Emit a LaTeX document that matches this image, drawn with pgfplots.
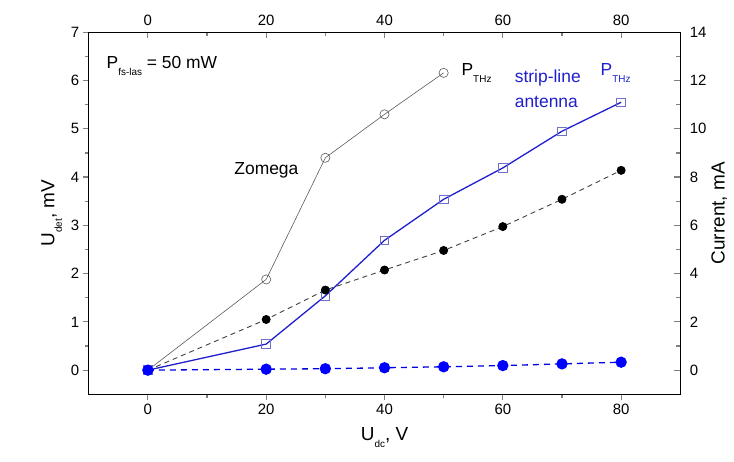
\documentclass[border=0pt]{standalone}
\usepackage{pgfplots}
\pgfplotsset{compat=1.18}
\usepackage{fontspec}
\setmainfont{Liberation Sans}
\definecolor{dblue}{RGB}{30,30,205}
\definecolor{sqblue}{RGB}{110,110,205}
\definecolor{zgray}{RGB}{90,90,90}
\newcommand{\sub}[1]{\raisebox{-0.75ex}{\fontsize{10}{10}\selectfont #1}}

\begin{document}
\begin{tikzpicture}
\pgfplotsset{
  common/.style={
    width=591.6bp, height=362bp, scale only axis,
    xmin=-10, xmax=90,
    xtick={0,20,40,60,80}, minor x tick num=1,
    axis line style={line width=1.4pt},
    major tick style={line width=1.2pt},
    minor tick style={line width=1.2pt},
    major tick length=6bp, minor tick length=4bp,
    tick label style={font=\fontsize{15}{15}\selectfont},
    /pgf/number format/assume math mode=true,
    label style={font=\fontsize{19}{19}\selectfont},
    clip=false,
  }
}
\begin{axis}[common, name=ax,
    ymin=-0.5, ymax=7,
    ytick={0,1,...,7}, minor y tick num=1,
    xtick pos=lower, ytick pos=left,
    tick align=outside,
    xlabel={U\sub{dc}, V},
    ylabel={U\sub{det}, mV},
    xlabel style={yshift=-6bp},
    ylabel style={yshift=2bp},
]
% Zomega P_THz
\addplot[color=zgray, line width=0.6pt, mark=o, mark size=4.6bp,
  mark options={fill=white, draw=zgray, line width=0.6pt}]
  coordinates {(0,0) (20,1.88) (30,4.40) (40,5.30) (50,6.16)};
% strip-line antenna P_THz
\addplot[color=dblue, line width=1.3pt, mark=square, mark size=4.3bp,
  mark options={fill=white, draw=sqblue, line width=0.8pt}]
  coordinates {(0,0) (20,0.54) (30,1.54) (40,2.69) (50,3.54) (60,4.19) (70,4.95) (80,5.55)};
\node[anchor=base west, inner sep=0pt, font=\fontsize{17.5}{17.5}\selectfont] at (axis cs:-7,6.24) {P\sub{fs-las} = 50 mW};
\node[anchor=west, inner sep=0pt, font=\fontsize{17.5}{17.5}\selectfont] at (axis cs:14.6,4.14) {Zomega};
\node[anchor=west, inner sep=0pt, font=\fontsize{17.5}{17.5}\selectfont] at (axis cs:53,6.15) {P\sub{THz}};
\node[anchor=west, inner sep=0pt, text=dblue, font=\fontsize{17.5}{17.5}\selectfont] at (axis cs:62.0,6.05) {strip-line};
\node[anchor=west, inner sep=0pt, text=dblue, font=\fontsize{17.5}{17.5}\selectfont] at (axis cs:62.0,5.55) {antenna};
\node[anchor=west, inner sep=0pt, text=dblue, font=\fontsize{17.5}{17.5}\selectfont] at (axis cs:76.5,6.15) {P\sub{THz}};
\end{axis}
\begin{axis}[common,
    ymin=-1, ymax=14,
    ytick={0,2,...,14}, minor y tick num=1,
    xtick pos=upper, xticklabel pos=upper,
    ytick pos=right, yticklabel pos=right,
    tick align=inside,
    xticklabel style={yshift=3bp},
    yticklabel style={xshift=6bp},
    ylabel={Current, mA},
    ylabel style={yshift=2bp},
]
% current, Zomega
\addplot[color=black!75, line width=0.9pt, dash pattern=on 5bp off 4bp, mark=*, mark size=4bp,
  mark options={solid, fill=black, draw=black}]
  coordinates {(0,0) (20,2.10) (30,3.32) (40,4.15) (50,4.96) (60,5.95) (70,7.08) (80,8.28)};
% current, strip-line antenna
\addplot[color=blue!90!black, line width=1.3pt, dash pattern=on 6bp off 5bp, mark=*, mark size=5bp,
  mark options={solid, fill=blue, draw=blue}]
  coordinates {(0,0) (20,0.04) (30,0.06) (40,0.10) (50,0.14) (60,0.19) (70,0.26) (80,0.33)};
\end{axis}
\pgfresetboundingbox
\path[use as bounding box] ([shift={(-88.7bp,-67.7bp)}]ax.south west) rectangle ([shift={(53.7bp,32.3bp)}]ax.north east);
\end{tikzpicture}
\end{document}
